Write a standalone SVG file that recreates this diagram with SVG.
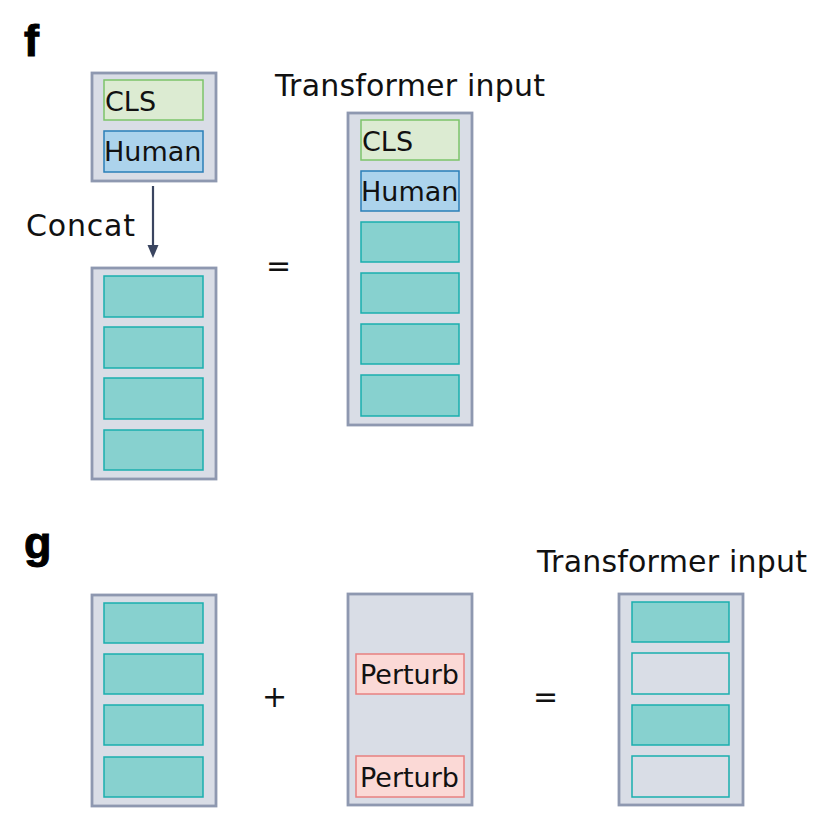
<svg xmlns="http://www.w3.org/2000/svg" width="832" height="834" viewBox="0 0 832 834">
<defs>
<style>
.outer{fill:#d9dde6;stroke:#8e98b0;stroke-width:2.8}
.cls{fill:#dcebd2;stroke:#7cc46a;stroke-width:1.5}
.hum{fill:#acd3ec;stroke:#2a7fb8;stroke-width:1.5}
.tok{fill:#87d1cf;stroke:#1aaeae;stroke-width:1.5}
.empty{fill:#d9dde6;stroke:#1aaeae;stroke-width:1.5}
.pert{fill:#fbd9d6;stroke:#e88080;stroke-width:1.5}
.lbl{font-family:"DejaVu Sans","Liberation Sans",sans-serif;font-size:27px;fill:#111}
.big{font-family:"DejaVu Sans","Liberation Sans",sans-serif;font-size:30px;fill:#111}
.panel{font-family:"Liberation Sans",Arial,sans-serif;font-weight:bold;font-size:45px;fill:#000;stroke:#000;stroke-width:1}
</style>
</defs>
<rect width="832" height="834" fill="#fff"/>
<text class="panel" x="24" y="56">f</text>
<text class="panel" x="24" y="558">g</text>

<g id="f-prefix">
<rect class="outer" x="92" y="73" width="124" height="108"/>
<rect class="cls" x="104" y="80" width="99" height="40"/>
<text class="lbl" x="105" y="111">CLS</text>
<rect class="hum" x="104" y="131" width="99" height="41"/>
<text class="lbl" x="104" y="161">Human</text>
</g>

<text class="big" x="26" y="236" textLength="109" lengthAdjust="spacing">Concat</text>

<g id="f-genes">
<rect class="outer" x="92" y="268" width="124" height="211"/>
<rect class="tok" x="104" y="276" width="99" height="41"/>
<rect class="tok" x="104" y="327" width="99" height="41"/>
<rect class="tok" x="104" y="378" width="99" height="41"/>
<rect class="tok" x="104" y="430" width="99" height="40"/>
</g>

<text class="big" x="266" y="276">=</text>

<text class="big" x="275" y="96" textLength="270" lengthAdjust="spacing">Transformer input</text>
<g id="f-input">
<rect class="outer" x="348" y="113" width="124" height="312"/>
<rect class="cls" x="361" y="120" width="98" height="40"/>
<text class="lbl" x="362" y="151">CLS</text>
<rect class="hum" x="361" y="171" width="98" height="40"/>
<text class="lbl" x="361" y="201">Human</text>
<rect class="tok" x="361" y="222" width="98" height="40"/>
<rect class="tok" x="361" y="273" width="98" height="40"/>
<rect class="tok" x="361" y="324" width="98" height="40"/>
<rect class="tok" x="361" y="375" width="98" height="41"/>
</g>

<g id="connectors">
<line x1="153" y1="186" x2="153" y2="248" stroke="#3a4560" stroke-width="2.2"/>
<path d="M147.5,245 L158.5,245 L153,258 Z" fill="#3a4560"/>
</g>

<g id="g-genes">
<rect class="outer" x="92" y="595" width="124" height="211"/>
<rect class="tok" x="104" y="603" width="99" height="40"/>
<rect class="tok" x="104" y="654" width="99" height="40"/>
<rect class="tok" x="104" y="705" width="99" height="40"/>
<rect class="tok" x="104" y="757" width="99" height="40"/>
</g>

<text class="big" x="262" y="707">+</text>

<g id="g-perturb">
<rect class="outer" x="348" y="594" width="124" height="211"/>
<rect class="pert" x="356" y="654" width="108" height="40"/>
<text class="lbl" x="360" y="684">Perturb</text>
<rect class="pert" x="356" y="756" width="108" height="41"/>
<text class="lbl" x="360" y="787">Perturb</text>
</g>

<text class="big" x="533" y="707">=</text>

<text class="big" x="537" y="572" textLength="270" lengthAdjust="spacing">Transformer input</text>
<g id="g-input">
<rect class="outer" x="619" y="594" width="124" height="211"/>
<rect class="tok" x="632" y="602" width="97" height="40"/>
<rect class="empty" x="632" y="653" width="97" height="41"/>
<rect class="tok" x="632" y="705" width="97" height="40"/>
<rect class="empty" x="632" y="756" width="97" height="41"/>
</g>
</svg>
